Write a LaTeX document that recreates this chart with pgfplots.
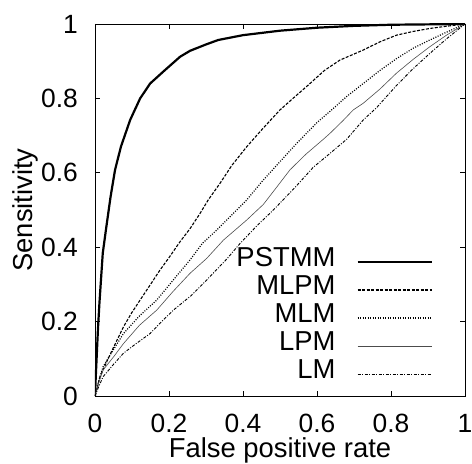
\documentclass[border=0pt]{standalone}
\usepackage{fontspec}
\setmainfont{Liberation Sans}
\usepackage{pgfplots}
\pgfplotsset{compat=1.18}
\begin{document}
\begin{tikzpicture}[font=\fontsize{27.5}{33}\selectfont]
\useasboundingbox (-95bp,-68bp) rectangle (377bp,396bp);
\begin{axis}[
  scale only axis,
  width=370bp, height=372bp,
  xmin=0, xmax=1, ymin=0, ymax=1,
  xtick={0,0.2,0.4,0.6,0.8,1},
  ytick={0,0.2,0.4,0.6,0.8,1},
  /pgf/number format/assume math mode=true,
  tick align=inside, tick pos=both,
  major tick length=5bp,
  tick style={black, line width=0.8bp},
  axis line style={line width=0.8bp},
  tick label style={font=\fontsize{26.5}{31}\selectfont},
  xticklabel style={inner sep=0pt, anchor=north, yshift=-18bp},
  yticklabel style={inner sep=0pt, anchor=east, xshift=-17bp},
  xlabel={False positive rate},
  ylabel={Sensitivity},
  every axis x label/.style={at={(axis description cs:0.5,-0.166)}, anchor=base, inner sep=0pt},
  every axis y label/.style={at={(axis description cs:-0.168,0.5)}, rotate=90, anchor=base, inner sep=0pt},
  legend plot pos=right,
  legend cell align=right,
  legend image code/.code={\draw[#1] (0bp,0bp) -- (74bp,0bp);},
  legend style={draw=none, fill=none, at={(rel axis cs:0.913,0.021)}, anchor=south east,
    row sep=0pt, column sep=21bp, inner sep=0pt,
    nodes={inner sep=0pt, text height=19bp, text depth=9bp}},
]
\addplot[black, line width=2.2bp] coordinates {
(0,0) (0.002,0.05) (0.005,0.115) (0.008,0.18) (0.012,0.25) (0.016,0.31)
(0.021,0.384) (0.03,0.45) (0.042,0.535) (0.054,0.607) (0.07,0.67)
(0.095,0.742) (0.122,0.80) (0.149,0.84) (0.189,0.876) (0.23,0.912)
(0.257,0.928) (0.3,0.945) (0.333,0.957) (0.4,0.97) (0.5,0.982)
(0.6,0.99) (0.7,0.995) (0.8,0.998) (0.9,0.999) (1,1)
};
\addlegendentry{PSTMM}
\addplot[black, line width=1.1bp, dash pattern=on 3bp off 1.5bp] coordinates {
(0,0) (0.0135,0.052) (0.04,0.11) (0.077,0.186) (0.1,0.225) (0.122,0.258)
(0.15,0.3) (0.176,0.339) (0.2,0.372) (0.23,0.415) (0.257,0.45)
(0.284,0.491) (0.306,0.527) (0.338,0.572) (0.37,0.62) (0.41,0.67)
(0.45,0.715) (0.5,0.769) (0.535,0.80) (0.572,0.832) (0.62,0.875)
(0.662,0.903) (0.725,0.93) (0.77,0.952) (0.815,0.97) (0.86,0.98)
(0.905,0.988) (0.95,0.994) (1,1)
};
\addlegendentry{MLPM}
\addplot[black, line width=1.2bp, dash pattern=on 1bp off 1.5bp] coordinates {
(0,0) (0.01,0.04) (0.022,0.079) (0.05,0.125) (0.077,0.168) (0.12,0.215)
(0.167,0.258) (0.21,0.31) (0.257,0.366) (0.29,0.41) (0.329,0.446)
(0.37,0.487) (0.41,0.527) (0.45,0.575) (0.5,0.63) (0.545,0.679)
(0.6,0.735) (0.635,0.765) (0.68,0.805) (0.725,0.84) (0.77,0.875)
(0.815,0.907) (0.86,0.935) (0.905,0.957) (0.95,0.978) (1,1)
};
\addlegendentry{MLM}
\addplot[black!70, line width=0.6bp] coordinates {
(0,0) (0.01,0.035) (0.022,0.07) (0.05,0.105) (0.077,0.141) (0.12,0.19)
(0.167,0.231) (0.21,0.28) (0.257,0.33) (0.302,0.37) (0.347,0.419)
(0.41,0.473) (0.455,0.515) (0.49,0.56) (0.527,0.608) (0.57,0.65)
(0.617,0.69) (0.635,0.706) (0.67,0.74) (0.698,0.769) (0.725,0.787)
(0.77,0.825) (0.815,0.868) (0.86,0.905) (0.905,0.939) (0.95,0.97) (1,1)
};
\addlegendentry{LPM}
\addplot[black, line width=0.9bp, dash pattern=on 3bp off 1.5bp on 1bp off 1.5bp] coordinates {
(0,0) (0.01,0.025) (0.022,0.052) (0.05,0.085) (0.077,0.115) (0.11,0.14)
(0.149,0.168) (0.18,0.2) (0.212,0.231) (0.26,0.27) (0.302,0.312)
(0.356,0.368) (0.392,0.41) (0.44,0.46) (0.482,0.5) (0.54,0.56)
(0.59,0.615) (0.635,0.652) (0.68,0.69) (0.725,0.742) (0.761,0.775)
(0.815,0.835) (0.86,0.88) (0.905,0.921) (0.95,0.96) (1,1)
};
\addlegendentry{LM}
\end{axis}
\end{tikzpicture}
\end{document}
